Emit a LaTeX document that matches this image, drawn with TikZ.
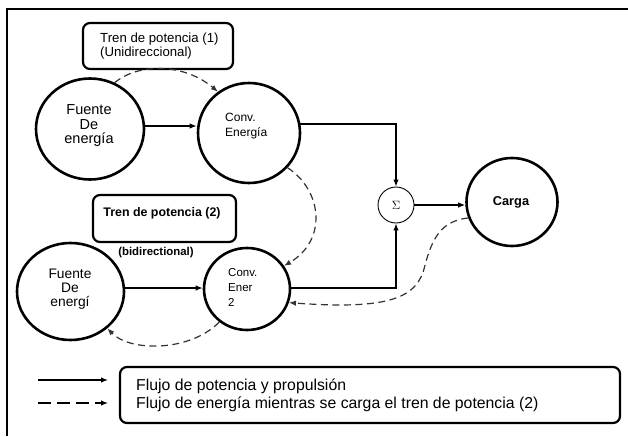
\documentclass[tikz,border=0pt]{standalone}
\usepackage{fontspec}
\setmainfont{Liberation Sans}
\usetikzlibrary{arrows.meta,shapes.geometric}
\tikzset{
  bigcirc/.style={ellipse, draw, line width=2.6pt, inner sep=0pt},
  rbox/.style={draw, rounded corners=7pt, line width=2.2pt, inner sep=0pt},
  txt/.style={inner sep=0pt, align=left},
  flow/.style={-{Latex[length=7pt,width=5.5pt]}, line width=1.2pt},
  dflow/.style={-{Latex[length=7pt,width=5.5pt]}, line width=1.2pt, dash pattern=on 7pt off 4.5pt, draw=black!80},
}
\begin{document}
\begin{tikzpicture}[x=1pt,y=-1pt]
\useasboundingbox (0,0) rectangle (628,436);
% frame
\draw[line width=1.8pt] (7,436) -- (7,9) -- (628,9);

% boxes
\node[rbox, minimum width=150pt, minimum height=46pt] (tp1) at (158,46) {};
\node[txt, font=\fontsize{13.2}{14}\selectfont, anchor=west] (tp1t) at (100,46) {Tren de potencia (1)\\(Unidireccional)};
\node[rbox, minimum width=143pt, minimum height=47pt] (tp2) at (164.5,218.5) {};
\node[txt, font=\bfseries\fontsize{12.4}{13}\selectfont] (tp2t) at (162,213) {Tren de potencia (2)};
\node[txt, font=\bfseries\fontsize{11.4}{12}\selectfont] (bid) at (156,253) {(bidirectional)};

% circles
\node[bigcirc, minimum width=108pt, minimum height=101pt] (f1) at (90,129) {};
\node[txt, align=center, font=\fontsize{14.5}{14.5}\selectfont] (f1t) at (89,126) {Fuente\\De\\energía};
\node[bigcirc, minimum width=102pt, minimum height=100pt] (c1) at (249,133) {};
\node[txt, font=\fontsize{12}{15}\selectfont, anchor=west] (c1t) at (225,126) {Conv.\\Energía};
\node[bigcirc, minimum width=107pt, minimum height=97pt] (f2) at (70.5,291.5) {};
\node[txt, align=center, font=\fontsize{13.8}{14}\selectfont] (f2t) at (70,289) {Fuente\\De\\energí};
\node[bigcirc, minimum width=86pt, minimum height=82pt] (c2) at (247,289) {};
\node[txt, font=\fontsize{11.5}{15}\selectfont, anchor=west] (c2t) at (228,287) {Conv.\\Ener\\2};
\node[circle, draw, line width=0.9pt, minimum size=36pt, inner sep=0pt, font=\fontsize{12}{14}\selectfont] (sig) at (396,205) {$\Sigma$};
\node[bigcirc, minimum width=91pt, minimum height=88pt] (carga) at (512,202) {};
\node[txt, font=\bfseries\fontsize{12.8}{14}\selectfont] (cargat) at (511,202) {Carga};

% solid flows
\coordinate (a1) at (0,126);
\draw[flow] (f1.east |- a1) -- (c1.west |- a1);
\draw[flow] (c1.10) -| (sig.north);
\coordinate (a2) at (0,288);
\draw[flow] (f2.east |- a2) -- (c2.west |- a2);
\draw[flow] (c2.east |- a2) -| (sig.south);
\draw[flow] (sig.east) -- (carga.west |- sig.east);

% dashed flows
\draw[dflow] (f1.62) .. controls (140,62) and (185,64) .. (c1.127);
\draw[dflow] (c1.-42) .. controls (322,190) and (328,240) .. (c2.32);
\draw[dflow] (carga.200) .. controls (440,221) and (432,240) .. (425,265) .. controls (418,298) and (390,310) .. (c2.-18);
\draw[dflow] (c2.-130) .. controls (190,352) and (130,352) .. (f2.-45);

% legend
\node[rbox, minimum width=500pt, minimum height=56pt] (leg) at (370,395) {};
\node[txt, font=\fontsize{15.8}{18}\selectfont, anchor=west] (legt) at (136,395.5) {Flujo de potencia y propulsión\\Flujo de energía mientras se carga el tren de potencia (2)};
\coordinate (l1a) at (38,380);
\coordinate (l1b) at (108,380);
\coordinate (l2a) at (38,403);
\coordinate (l2b) at (108,403);
\draw[flow] (l1a) -- (l1b);
\draw[dflow, draw=black, dash pattern=on 13pt off 6pt] (l2a) -- (l2b);
\end{tikzpicture}
\end{document}
